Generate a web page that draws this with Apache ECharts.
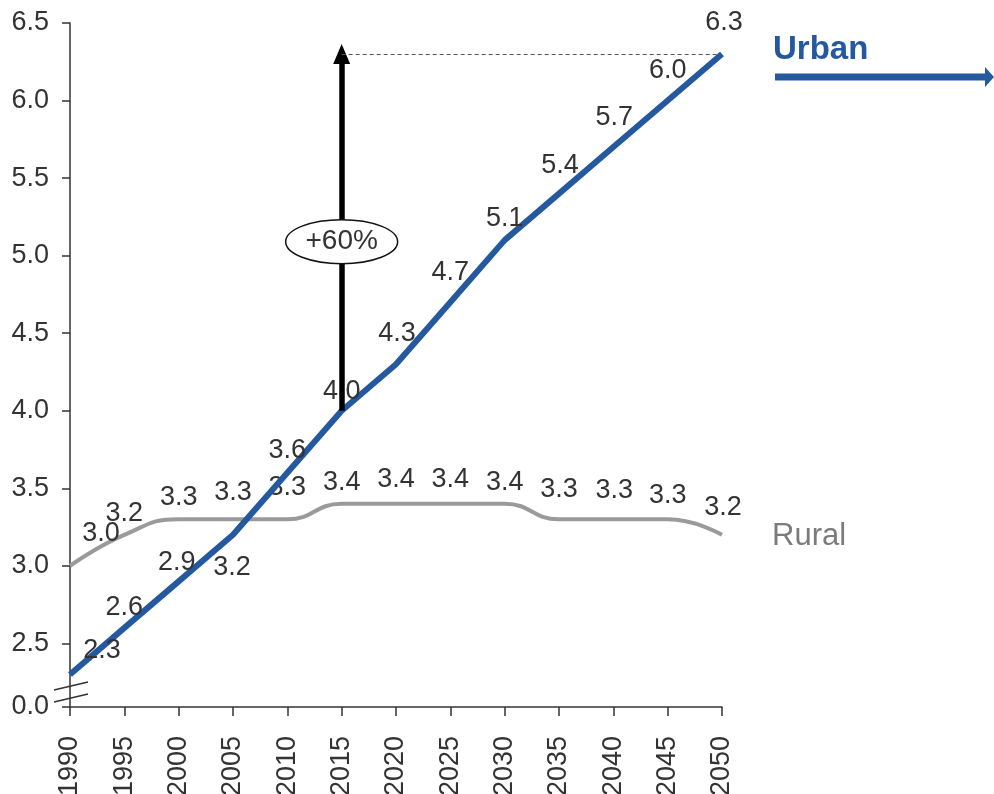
<!DOCTYPE html>
<html>
<head>
<meta charset="utf-8">
<script src="https://cdn.jsdelivr.net/npm/echarts@6/dist/echarts.min.js"></script>
<style>
  html, body { margin: 0; padding: 0; background: #ffffff; }
  #chart { width: 994px; height: 794px; }
</style>
</head>
<body>
<div id="chart"></div>
<script>
// Household size (persons) by year, urban vs rural
const years = ['1990', '1995', '2000', '2005', '2010', '2015', '2020', '2025', '2030', '2035', '2040', '2045', '2050'];
const urban = [2.3, 2.6, 2.9, 3.2, 3.6, 4.0, 4.3, 4.7, 5.1, 5.4, 5.7, 6.0, 6.3];
const rural = [3.0, 3.2, 3.3, 3.3, 3.3, 3.4, 3.4, 3.4, 3.4, 3.3, 3.3, 3.3, 3.2];
const yTicks = [2.5, 3.0, 3.5, 4.0, 4.5, 5.0, 5.5, 6.0, 6.5];
const axisFloor = 2.09;          // broken axis: the bottom is labelled 0.0
const floorLabel = '0.0';
const growthLabel = '+60%';
const seriesNames = ['Urban', 'Rural'];

// label placement tweaks (pixel offsets of label centre from the point)
const urbanLabelOffset = [[32, -24], [0, -20], [-2, -19], [-1, 33], [0, -22], [0, -19], [1, -31],
                          [0, -30], [0, -22], [1, -28], [1, -30], [0, -30], [2, -31]];
const ruralLabelOffset = [[31, -32], [0, -21], [0, -22], [0, -27], [0, -32], [0, -21], [0, -24],
                          [0, -24], [0, -21], [0, -30], [1, -29], [0, -24], [1, -27]];

const FONT = "'Liberation Sans', Arial, Helvetica, sans-serif";
const BLUE = '#2459a0';
const GREY = '#9a9a9a';
const INK = '#333333';

const chart = echarts.init(document.getElementById('chart'), null, { renderer: 'canvas' });

function labelled(values, offsets) {
  return values.map((v, i) => ({ value: v, label: { offset: offsets[i] } }));
}

const valueLabel = {
  show: true,
  position: 'inside',
  align: 'center',
  verticalAlign: 'middle',
  fontSize: 27,
  fontFamily: FONT,
  color: INK,
  formatter: p => p.value.toFixed(1)
};

chart.setOption({
  animation: false,
  backgroundColor: '#ffffff',
  grid: { left: 70, right: 272, top: 23, bottom: 87, containLabel: false, outerBoundsMode: 'none' },
  xAxis: {
    type: 'category',
    data: years,
    boundaryGap: false,
    axisLine: { lineStyle: { color: INK, width: 1.5 } },
    axisTick: { show: true, length: 9, lineStyle: { color: INK, width: 1.5 } },
    axisLabel: { rotate: 90, margin: 29, fontSize: 27, fontFamily: FONT, color: INK, interval: 0 },
    splitLine: { show: false }
  },
  yAxis: {
    type: 'value',
    min: axisFloor,
    max: 6.5,
    axisLine: { show: true, lineStyle: { color: INK, width: 1.5 } },
    axisTick: { show: true, length: 8, lineStyle: { color: INK, width: 1.5 }, customValues: [axisFloor].concat(yTicks) },
    axisLabel: {
      fontSize: 27, fontFamily: FONT, color: INK, margin: 21,
      customValues: [axisFloor].concat(yTicks),
      formatter: v => (v < yTicks[0] - 0.1 ? floorLabel : v.toFixed(1))
    },
    splitLine: { show: false }
  },
  series: [
    {
      name: seriesNames[1],
      type: 'line',
      data: labelled(rural, ruralLabelOffset),
      smooth: 0.5,
      symbol: 'circle',
      symbolSize: 1,
      showSymbol: true,
      itemStyle: { color: 'rgba(0,0,0,0)' },
      lineStyle: { color: GREY, width: 4 },
      label: valueLabel,
      emphasis: { disabled: true },
      z: 2
    },
    {
      name: seriesNames[0],
      type: 'line',
      data: labelled(urban, urbanLabelOffset),
      symbol: 'circle',
      symbolSize: 1,
      showSymbol: true,
      itemStyle: { color: 'rgba(0,0,0,0)' },
      lineStyle: { color: BLUE, width: 6 },
      label: valueLabel,
      emphasis: { disabled: true },
      z: 3,
      markLine: {
        silent: true,
        symbol: ['none', 'none'],
        label: { show: false },
        emphasis: { disabled: true },
        data: [
          [
            { coord: [years[5], urban[5]], symbol: 'none', lineStyle: { color: '#000', width: 5.5, type: 'solid' } },
            { coord: [years[5], urban[12]], symbol: 'triangle', symbolSize: [17, 20] }
          ],
          [
            { coord: [years[5], urban[12]], symbol: 'none', lineStyle: { color: '#555', width: 1, type: [4, 3] } },
            { coord: [years[12], urban[12]], symbol: 'none' }
          ]
        ]
      }
    }
  ]
});

// Annotations drawn once the axes are laid out
const centre = chart.convertToPixel({ gridIndex: 0 }, [years[5], 5.09]);
const origin = chart.convertToPixel({ gridIndex: 0 }, [years[0], axisFloor]);

chart.setOption({
  graphic: [
    // growth badge
    {
      type: 'ellipse',
      shape: { cx: centre[0], cy: centre[1], rx: 56, ry: 22 },
      style: { fill: '#ffffff', stroke: '#111', lineWidth: 1.5 },
      z: 100
    },
    {
      type: 'text',
      x: centre[0], y: centre[1],
      style: { text: growthLabel, fill: INK, font: '28px ' + FONT, align: 'center', verticalAlign: 'middle' },
      z: 101
    },
    // axis break marks
    {
      type: 'line',
      shape: { x1: origin[0] - 16, y1: origin[1] - 17, x2: origin[0] + 18, y2: origin[1] - 25 },
      style: { stroke: INK, lineWidth: 1.5 },
      z: 100
    },
    {
      type: 'line',
      shape: { x1: origin[0] - 16, y1: origin[1] - 5, x2: origin[0] + 18, y2: origin[1] - 13 },
      style: { stroke: INK, lineWidth: 1.5 },
      z: 100
    },
    // series names
    {
      type: 'text',
      x: 773, y: 50,
      style: { text: seriesNames[0], fill: BLUE, font: 'bold 33px ' + FONT, align: 'left', verticalAlign: 'middle' },
      z: 100
    },
    {
      type: 'line',
      shape: { x1: 775, y1: 77, x2: 986, y2: 77 },
      style: { stroke: BLUE, lineWidth: 7 },
      z: 100
    },
    {
      type: 'polygon',
      shape: { points: [[985, 67], [994, 77], [985, 87]] },
      style: { fill: BLUE },
      z: 100
    },
    {
      type: 'text',
      x: 772, y: 536,
      style: { text: seriesNames[1], fill: '#7b7b7b', font: '31px ' + FONT, align: 'left', verticalAlign: 'middle' },
      z: 100
    }
  ]
});
</script>
</body>
</html>
